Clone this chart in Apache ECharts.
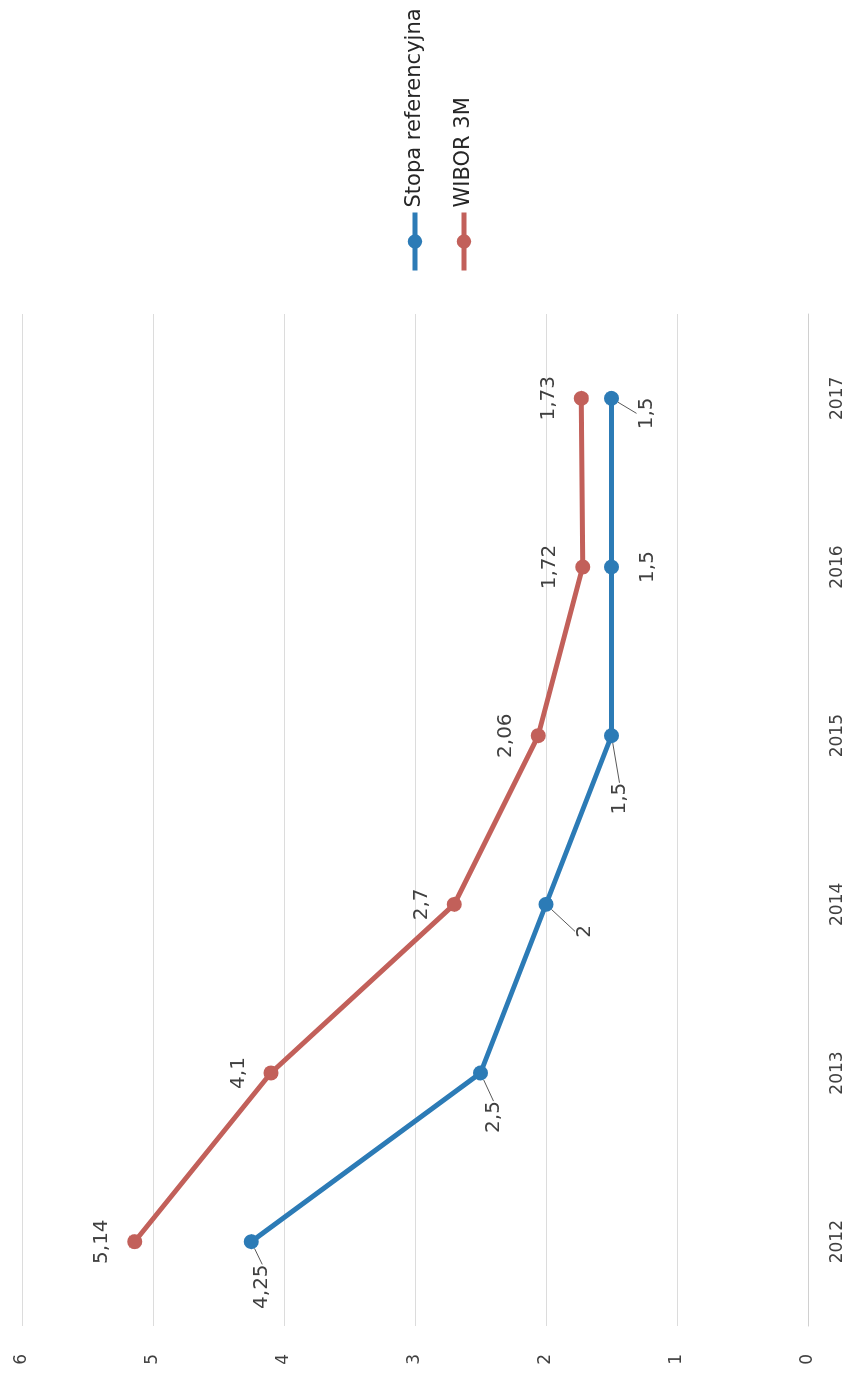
<!DOCTYPE html>
<html><head><meta charset="utf-8">
<script src="https://cdn.jsdelivr.net/npm/echarts@6/dist/echarts.min.js"></script>
<style>
html,body{margin:0;padding:0;background:#fff;overflow:hidden;width:858px;height:1382px;}
#chart{position:absolute;left:0;top:0;width:1382px;height:858px;transform-origin:0 0;transform:translate(0,1382px) rotate(-90deg);}
</style></head><body><div id="chart"></div>
<script>
// Data
const years = ['2012', '2013', '2014', '2015', '2016', '2017'];
const stopaReferencyjna = [4.25, 2.5, 2, 1.5, 1.5, 1.5];
const wibor3M = [5.14, 4.1, 2.7, 2.06, 1.72, 1.73];
const valueAxisMin = 0, valueAxisMax = 6, valueAxisStep = 1;
const seriesNames = ['Stopa referencyjna', 'WIBOR 3M'];

// Styling (label shifts for the blue series, in chart pixels)
const blueLabelShift = [[-45, 11], [-44, 13], [-27, 39], [-63, 8], [0, 36], [-15, 35]];
const blueLeader = [true, true, true, true, false, true];
const BLUE = '#2c7bb6', RED = '#c2605a', TXT = '#404040';
const FONT = 'DejaVu Sans';

const fmt = v => String(v).replace('.', ',');

const chart = echarts.init(document.getElementById('chart'), null, {width: 1382, height: 858});
chart.setOption({
  backgroundColor: '#fff',
  animation: false,
  textStyle: {fontFamily: FONT},
  grid: {left: 56, right: 314, top: 22, bottom: 50, containLabel: false},
  legend: {
    orient: 'vertical', left: 1104, top: 398,
    itemWidth: 58, itemHeight: 18, itemGap: 25,
    lineStyle: {width: 5},
    textStyle: {fontSize: 21, color: '#262626', fontFamily: FONT, lineHeight: 24},
    data: seriesNames
  },
  xAxis: {
    type: 'category', data: years, boundaryGap: true,
    axisLine: {show: true, lineStyle: {color: '#d0d0d0', width: 1}},
    axisTick: {show: false},
    axisLabel: {fontSize: 17, color: TXT, margin: 21, fontFamily: FONT}
  },
  yAxis: {
    type: 'value', min: valueAxisMin, max: valueAxisMax, interval: valueAxisStep,
    axisLine: {show: false}, axisTick: {show: false},
    splitLine: {lineStyle: {color: '#dcdcdc', width: 1}},
    axisLabel: {fontSize: 17, color: TXT, margin: 28, fontFamily: FONT}
  },
  series: [
    {
      name: seriesNames[0], type: 'line', data: stopaReferencyjna.map((v, i) => ({
        value: v, labelLine: {show: blueLeader[i]}
      })),
      symbol: 'circle', symbolSize: 15, z: 3,
      lineStyle: {color: BLUE, width: 5}, itemStyle: {color: BLUE},
      label: {show: true, position: 'inside', color: TXT, fontSize: 20, fontFamily: FONT,
        formatter: p => fmt(p.value)},
      labelLayout: p => ({dx: blueLabelShift[p.dataIndex][0], dy: blueLabelShift[p.dataIndex][1]}),
      labelLine: {show: true, lineStyle: {color: '#595959', width: 1}}
    },
    {
      name: seriesNames[1], type: 'line', data: wibor3M,
      symbol: 'circle', symbolSize: 15, z: 2,
      lineStyle: {color: RED, width: 5}, itemStyle: {color: RED},
      label: {show: true, position: 'top', distance: 15, color: TXT, fontSize: 20, fontFamily: FONT,
        formatter: p => fmt(p.value)}
    }
  ]
});
</script></body></html>
